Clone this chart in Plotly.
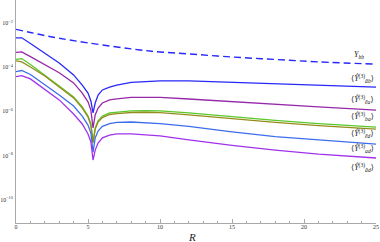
import numpy as np
import plotly.graph_objects as go

# Data (log10 of the plotted quantity)
R_bb = [0, 1, 2, 3, 5, 8.6, 10, 12, 15, 18, 21, 25]
log_Y_bb = [-2.29, -2.43, -2.57, -2.69, -2.90, -3.22, -3.31, -3.40, -3.54, -3.65, -3.76, -3.86]

R = [0, 0.4, 1, 2, 3, 4, 4.6, 5.0, 5.2, 5.35, 5.5, 5.7, 6, 6.5, 7, 8, 9, 10, 12, 15, 18, 21, 25]
log_s1 = [-2.67, -2.67, -2.93, -3.37, -3.81, -4.35, -4.81, -5.17, -5.53, -6.07, -5.62, -5.26, -5.03,
          -4.90, -4.81, -4.69, -4.64, -4.62, -4.62, -4.68, -4.75, -4.82, -4.90]
log_s2 = [-3.33, -3.31, -3.52, -3.89, -4.25, -4.71, -5.17, -5.57, -5.94, -6.75, -6.16, -5.85, -5.62,
          -5.48, -5.43, -5.37, -5.36, -5.37, -5.44, -5.57, -5.69, -5.80, -5.94]
log_s3 = [-3.65, -3.61, -3.88, -4.35, -4.85, -5.35, -5.80, -6.21, -6.57, -7.38, -6.75, -6.43, -6.21,
          -6.07, -6.03, -5.98, -5.97, -5.98, -6.07, -6.25, -6.41, -6.55, -6.71]
log_s4 = [-3.71, -3.76, -3.99, -4.40, -4.90, -5.39, -5.85, -6.25, -6.62, -7.43, -6.80, -6.48, -6.28,
          -6.14, -6.10, -6.05, -6.04, -6.06, -6.16, -6.34, -6.50, -6.64, -6.80]
log_s5 = [-4.20, -4.15, -4.33, -4.78, -5.26, -5.76, -6.21, -6.62, -6.98, -7.84, -7.20, -6.89, -6.68,
          -6.55, -6.50, -6.48, -6.50, -6.55, -6.68, -6.93, -7.14, -7.29, -7.48]
log_s6 = [-4.43, -4.38, -4.53, -5.01, -5.48, -6.12, -6.57, -7.02, -7.38, -8.20, -7.75, -7.43, -7.20,
          -7.07, -7.02, -7.02, -7.05, -7.11, -7.29, -7.54, -7.75, -7.93, -8.11]

labels = ["<i>Y</i><sub><i>bb</i></sub>",
          "⟨<i>Ŷ</i><sup>(3)</sup><sub><i>āb</i></sub>⟩",
          "⟨<i>Ŷ</i><sup>(3)</sup><sub><i>ēa</i></sub>⟩",
          "⟨<i>Ŷ</i><sup>(3)</sup><sub><i>ba</i></sub>⟩",
          "⟨<i>Ŷ</i><sup>(3)</sup><sub><i>ēd</i></sub>⟩",
          "⟨<i>Ŷ</i><sup>(3)</sup><sub><i>ad</i></sub>⟩",
          "⟨<i>Ŷ</i><sup>(3)</sup><sub><i>ād</i></sub>⟩"]
label_log_y = [-3.45, -4.49, -5.48, -6.25, -7.02, -7.66, -8.52]
label_x = [23.8, 24.05, 24.05, 24.05, 24.05, 24.05, 24.05]

x_ticks = [0, 5, 10, 15, 20, 25]
y_ticks = [1e-10, 1e-8, 1e-6, 1e-4, 1e-2]
y_ticktext = ["10<sup>−10</sup>", "10<sup>−8</sup>", "10<sup>−6</sup>", "10<sup>−4</sup>", "10<sup>−2</sup>"]

colors = ["rgb(40,40,250)", "rgb(150,40,170)", "rgb(90,200,40)", "rgb(150,140,30)",
          "rgb(60,110,235)", "rgb(160,50,235)"]

fig = go.Figure()
fig.add_trace(go.Scatter(x=R_bb, y=np.power(10.0, log_Y_bb), mode="lines",
                         line=dict(color="rgb(40,40,250)", width=1.4, dash="7px,4px", shape="spline")))
series = [log_s1, log_s2, log_s3, log_s4, log_s5, log_s6]
for s, c in zip(series, colors):
    fig.add_trace(go.Scatter(x=R, y=np.power(10.0, s), mode="lines",
                             line=dict(color=c, width=1.3)))

font_serif = "Liberation Serif, DejaVu Serif, serif"
for t, lx, ly in zip(labels, label_x, label_log_y):
    fig.add_annotation(x=lx, y=ly, text=t, showarrow=False,
                       font=dict(family=font_serif, size=8, color="#222"))
fig.add_annotation(x=0.49, y=-0.062, xref="paper", yref="paper", text="<i>R</i>", showarrow=False,
                   yanchor="middle", font=dict(family=font_serif, size=11, color="#222"))

fig.update_layout(
    width=380, height=242, margin=dict(l=16, r=4, t=0, b=19),
    paper_bgcolor="white", plot_bgcolor="white", showlegend=False,
    font=dict(family=font_serif, size=6, color="#333"),
)
fig.update_xaxes(range=[0, 25], tickvals=x_ticks, ticks="inside", ticklen=4, tickcolor="#aaa",
                 showgrid=False, zeroline=False, showline=True, linecolor="#aaa", linewidth=1,
                 tickfont=dict(size=6), ticklabelstandoff=-2,
                 minor=dict(dtick=1, ticks="inside", ticklen=2, tickcolor="#aaa"))
fig.update_yaxes(type="log", range=[-11.05, -0.96], tickvals=y_ticks, ticktext=y_ticktext,
                 ticks="", showgrid=False, zeroline=False, showline=True, linecolor="#aaa",
                 linewidth=1, tickfont=dict(size=6), ticklabelstandoff=1)
fig.write_html("out.html", config={"displayModeBar": False},
               post_script="document.body.style.margin='0';document.body.style.padding='0';")
